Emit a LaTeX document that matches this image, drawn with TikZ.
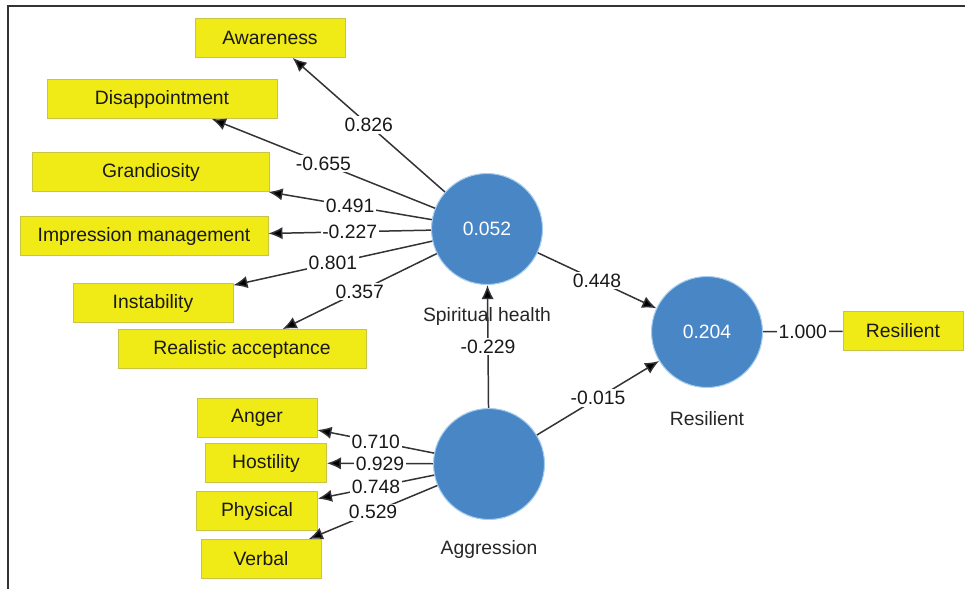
\documentclass[tikz,border=0pt]{standalone}
\usepackage{fontspec}
\setmainfont{Liberation Sans}
\usetikzlibrary{positioning, arrows.meta}
\definecolor{lvblue}{RGB}{72,134,198}
\definecolor{lvrim}{RGB}{165,205,238}
\definecolor{mvyellow}{RGB}{240,234,22}
\definecolor{mvrim}{RGB}{200,196,70}
\definecolor{inkgrey}{RGB}{50,50,55}
\tikzset{
    txt/.style={font=\fontsize{11}{13}\selectfont},
    latent/.style={circle, fill=lvblue, draw=lvrim, line width=0.6pt,
        minimum size=2.22cm, inner sep=0pt, text=white, txt},
    manifest/.style={rectangle, fill=mvyellow, draw=mvrim, line width=0.5pt,
        minimum height=0.78cm, inner sep=2pt, text=black!90, txt},
    lvname/.style={inner sep=0pt, text=black!85, txt},
    weight/.style={fill=white, inner sep=1pt, text=black!90, txt},
    arr/.style={draw=inkgrey, line width=0.85pt, -{Latex[length=8pt,width=7pt]}}
}
\begin{document}
\begin{tikzpicture}[x=0.02cm, y=-0.02cm]
    \useasboundingbox (0,0) rectangle (965,589);
    \draw[inkgrey, line width=0.9pt] (965,6) -- (8,6) -- (8,589);
    % latent variables
    \node[latent] (SH) at (487,229) {0.052};
    \node[latent] (RS) at (707,332) {0.204};
    \node[latent] (AG) at (489,464) {};
    \node[lvname] (SHn) [below=0.44cm of SH] {Spiritual health};
    \node[lvname] (RSn) [below=0.46cm of RS] {Resilient};
    \node[lvname] (AGn) [below=0.4cm of AG] {Aggression};
    % indicators
    \node[manifest, minimum width=3cm] (AW) at (270,38) {Awareness};
    \node[manifest, minimum width=4.6cm] (DI) at (162,99) {Disappointment};
    \node[manifest, minimum width=4.74cm] (GR) at (151,172) {Grandiosity};
    \node[manifest, minimum width=4.96cm] (IM) at (144,236) {Impression management};
    \node[manifest, minimum width=3.2cm] (IN) at (153,303) {Instability};
    \node[manifest, minimum width=4.96cm] (RA) at (242,349) {Realistic acceptance};
    \node[manifest, minimum width=2.4cm] (AN) at (257,418) {Anger};
    \node[manifest, minimum width=2.42cm] (HO) at (266,463) {Hostility};
    \node[manifest, minimum width=2.42cm] (PH) at (257,511) {Physical};
    \node[manifest, minimum width=2.4cm] (VE) at (261,559) {Verbal};
    \node[manifest, minimum width=2.4cm] (RI) at (903,331) {Resilient};
    \draw[arr]
        (SH) edge node[weight] {0.826} (AW)
        (SH) edge node[weight] {-0.655} (DI)
        (SH) edge node[weight] {0.491} (GR)
        (SH) edge node[weight] {-0.227} (IM)
        (SH) edge node[weight] {0.801} (IN)
        (SH) edge node[weight] {0.357} (RA)
        (AG) edge node[weight] {-0.229} (SH)
        (SH) edge node[weight] {0.448} (RS)
        (AG) edge node[weight] {-0.015} (RS)
        (AG) edge node[weight] {0.710} (AN)
        (AG) edge node[weight] {0.929} (HO)
        (AG) edge node[weight] {0.748} (PH)
        (AG) edge node[weight] {0.529} (VE)
        (RS) edge[-] node[weight] {1.000} (RI);
\end{tikzpicture}
\end{document}
